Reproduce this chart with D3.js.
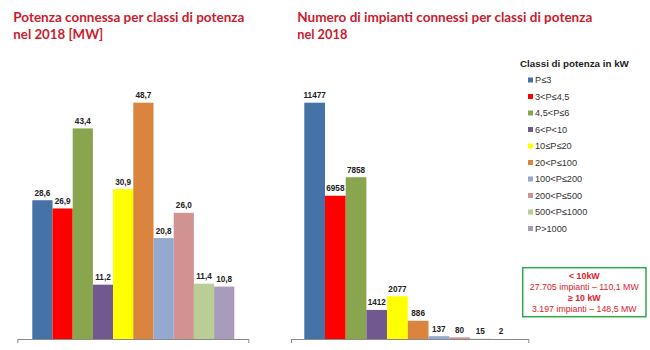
<!DOCTYPE html>
<html><head><meta charset="utf-8">
<script src="https://cdn.jsdelivr.net/npm/d3@7"></script>
<style>body{margin:0;background:#fff}svg{display:block}</style>
</head><body>
<svg id="c" width="650" height="350"></svg>
<script>
const categories = ["P≤3","3<P≤4,5","4,5<P≤6","6<P<10","10≤P≤20","20<P≤100","100<P≤200","200<P≤500","500<P≤1000","P>1000"];
const colors = ["#4572A7","#FF0000","#89A54E","#71588F","#FFFF00","#DB843D","#93A9CF","#D19392","#B9CD96","#A99BBD"];
const potenzaMW = [28.6,26.9,43.4,11.2,30.9,48.7,20.8,26.0,11.4,10.8];
const impianti = [11477,6958,7858,1412,2077,886,137,80,15,2];
const titleLeft = ["Potenza connessa per classi di potenza","nel 2018 [MW]"];
const titleRight = ["Numero di impianti connessi per classi di potenza","nel 2018"];
const legendTitle = "Classi di potenza in kW";
const boxLines = [["< 10kW",true],["27.705 impianti – 110,1 MW",false],["≥ 10 kW",true],["3.197 impianti – 148,5 MW",false]];

const svg = d3.select("#c");
const fmtIt = d => d.toFixed(1).replace(".", ",");
const fmtInt = d => String(d);

function titles(lines, x, w1, w2) {
  const t = svg.append("g").attr("font-family","Lato, 'Open Sans', sans-serif").attr("font-weight","bold")
    .attr("font-size",13.5).attr("fill","#CC1A2E");
  t.append("text").attr("x",x).attr("y",22).attr("textLength",w1).attr("lengthAdjust","spacingAndGlyphs").text(lines[0]);
  t.append("text").attr("x",x).attr("y",39).attr("textLength",w2).attr("lengthAdjust","spacingAndGlyphs").text(lines[1]);
}
titles(titleLeft, 13.3, 231, 90);
titles(titleRight, 297.3, 295, 50);

function chart(values, x0, x1, axL, axR, yMaxVal, yMaxPix, fmt) {
  const base = 339;
  const x = d3.scaleBand().domain(categories).range([x0, x1]).padding(0);
  const y = d3.scaleLinear().domain([0, yMaxVal]).range([base, yMaxPix]);
  const g = svg.append("g");
  g.selectAll("rect").data(values).join("rect")
    .attr("x",(d,i)=>x(categories[i])).attr("width",x.bandwidth())
    .attr("y",d=>y(d)).attr("height",d=>base-y(d))
    .attr("fill",(d,i)=>colors[i]);
  g.selectAll("text").data(values).join("text")
    .attr("x",(d,i)=>x(categories[i])+x.bandwidth()/2).attr("y",d=>y(d)-4.5)
    .attr("text-anchor","middle").attr("font-family","'Liberation Sans', Arial, sans-serif")
    .attr("font-weight","bold").attr("font-size",8.2).attr("fill","#222").text(fmt);
  const ax = d3.axisBottom(d3.scaleLinear().domain([0,1]).range([axL, axR])).tickValues([0,1]).tickFormat("").tickSizeOuter(0).tickSizeInner(4);
  const a = svg.append("g").attr("transform",`translate(0,${base})`).call(ax);
  a.selectAll("path,line").attr("stroke","#8a8a8a").attr("stroke-width",1);
}
chart(potenzaMW, 32.3, 234.3, 17.3, 248.3, 48.7, 102.7, fmtIt);
chart(impianti, 304.3, 511.3, 291, 528.3, 11477, 102.7, fmtInt);

// legend
const lg = svg.append("g").attr("font-family","'Liberation Sans', Arial, sans-serif");
lg.append("text").attr("x",520).attr("y",67).attr("font-weight","bold").attr("font-size",9.8).attr("fill","#222").text(legendTitle);
const ly = d3.scalePoint().domain(categories).range([80, 228.5]);
const li = lg.selectAll("g.it").data(categories).join("g").attr("class","it")
  .attr("transform",d=>`translate(0,${ly(d)})`);
li.append("rect").attr("x",528).attr("y",-2.5).attr("width",5).attr("height",5).attr("fill",(d,i)=>colors[i]);
li.append("text").attr("x",535).attr("y",3.2).attr("font-size",9.2).attr("fill","#333").text(d=>d);

// box
const bx = svg.append("g");
bx.append("rect").attr("x",522.7).attr("y",267.7).attr("width",123.3).attr("height",49)
  .attr("fill","#fff").attr("stroke","#2EA84E").attr("stroke-width",1.5);
bx.selectAll("text").data(boxLines).join("text")
  .attr("x",584.3).attr("y",(d,i)=>278.5+i*11).attr("text-anchor","middle")
  .attr("font-family","'Liberation Sans', Arial, sans-serif").attr("font-size",8.8)
  .attr("font-weight",d=>d[1]?"bold":"normal").attr("fill","#E0202E").text(d=>d[0]);
</script>
</body></html>
